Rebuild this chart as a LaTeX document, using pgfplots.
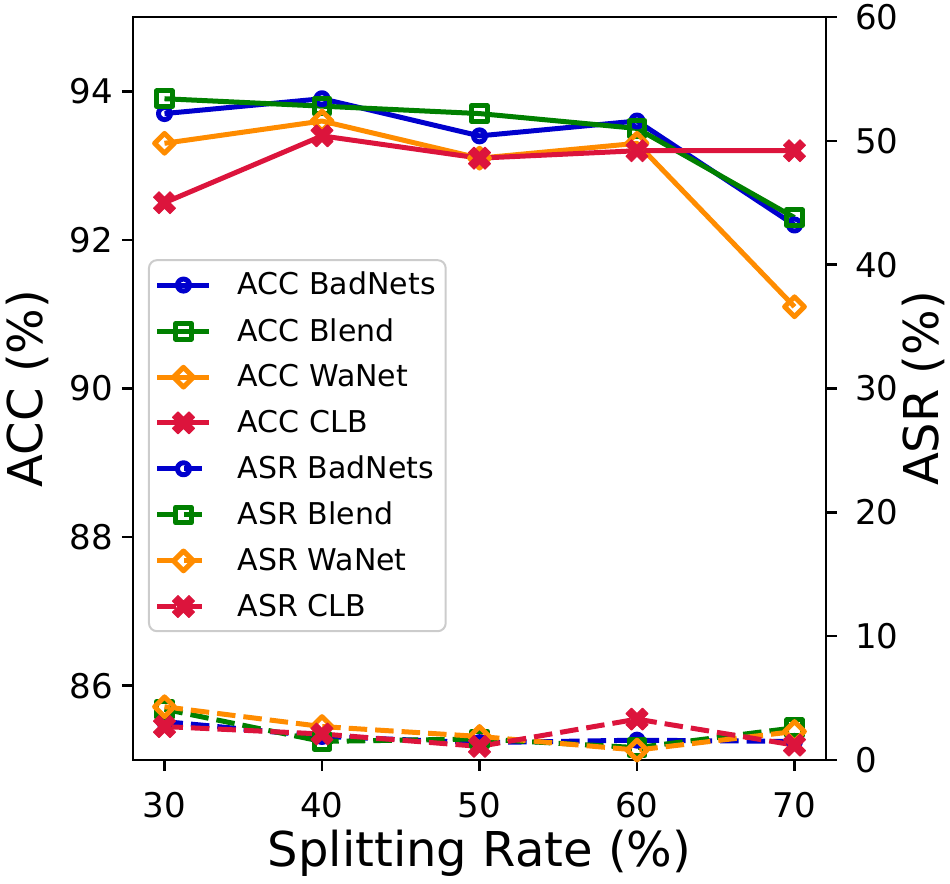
\documentclass[border=0pt]{standalone}
\usepackage{pgfplots}
\pgfplotsset{compat=1.18}
\usepackage{fontspec}
\setmainfont{DejaVu Sans}
\definecolor{cblue}{HTML}{0000CD}
\definecolor{cgreen}{HTML}{008000}
\definecolor{corange}{HTML}{FF8C00}
\definecolor{ccrimson}{HTML}{DC143C}
\pgfdeclareplotmark{Xf}{%
  \pgfpathmoveto{\pgfqpoint{-0.5\pgfplotmarksize}{-\pgfplotmarksize}}%
  \pgfpathlineto{\pgfqpoint{0pt}{-0.5\pgfplotmarksize}}%
  \pgfpathlineto{\pgfqpoint{0.5\pgfplotmarksize}{-\pgfplotmarksize}}%
  \pgfpathlineto{\pgfqpoint{\pgfplotmarksize}{-0.5\pgfplotmarksize}}%
  \pgfpathlineto{\pgfqpoint{0.5\pgfplotmarksize}{0pt}}%
  \pgfpathlineto{\pgfqpoint{\pgfplotmarksize}{0.5\pgfplotmarksize}}%
  \pgfpathlineto{\pgfqpoint{0.5\pgfplotmarksize}{\pgfplotmarksize}}%
  \pgfpathlineto{\pgfqpoint{0pt}{0.5\pgfplotmarksize}}%
  \pgfpathlineto{\pgfqpoint{-0.5\pgfplotmarksize}{\pgfplotmarksize}}%
  \pgfpathlineto{\pgfqpoint{-\pgfplotmarksize}{0.5\pgfplotmarksize}}%
  \pgfpathlineto{\pgfqpoint{-0.5\pgfplotmarksize}{0pt}}%
  \pgfpathlineto{\pgfqpoint{-\pgfplotmarksize}{-0.5\pgfplotmarksize}}%
  \pgfpathclose\pgfusepathqfillstroke}
\pgfplotsset{
  cBad/.style={cblue, line width=2.5pt, line join=round, mark=o, mark size=3pt,
    mark options={solid, line width=2.5pt, fill=none}},
  cBle/.style={cgreen, line width=2.5pt, line join=round, mark=square, mark size=3.9pt,
    mark options={solid, line width=2.5pt, fill=none}},
  cWa/.style={corange, line width=2.5pt, line join=round, mark=square, mark size=3.5pt,
    mark options={solid, rotate=45, line width=2.5pt, fill=none}},
  cClb/.style={ccrimson, line width=2.5pt, line join=round, mark=Xf, mark size=5.5pt,
    mark options={solid, line width=0.5pt, fill=ccrimson, fill opacity=1}},
  dsh/.style={dash pattern=on 9.25pt off 4pt},
  common/.style={
    scale only axis, width=346.5pt, height=371.5pt,
    xmin=28, xmax=72,
    tick align=outside, major tick length=5.5pt,
    every tick/.style={black, line width=1.3pt},
    axis line style={line width=1.3pt},
    /pgf/number format/assume math mode=true,
    ticklabel style={font=\fontsize{17}{20}\selectfont},
  },
}
\begin{document}
\begin{tikzpicture}
\begin{axis}[common,
  ymin=85, ymax=95,
  xtick={30,40,50,60,70}, ytick={86,88,90,92,94},
  xtick pos=bottom, ytick pos=left,
  xticklabel style={yshift=-7pt},
  yticklabel style={xshift=-1pt},
  xlabel={Splitting Rate (\%)}, ylabel={ACC (\%)},
  every axis x label/.style={at={(axis description cs:0.5,-0.144)},anchor=base,font=\fontsize{24}{28}\selectfont},
  every axis y label/.style={at={(axis description cs:-0.1299,0.5)},rotate=90,anchor=base,font=\fontsize{24}{28}\selectfont},
  legend image code/.code={\draw[mark repeat=2,mark phase=2,fill opacity=1,#1] plot coordinates {(0pt,0pt) (13pt,0pt) (26pt,0pt)};},
  legend style={at={(0.0216,0.172)}, anchor=south west, draw=black!20, line width=1pt,
    rounded corners=4pt, fill=white, fill opacity=0.8, text opacity=1,
    font=\fontsize{15}{18}\selectfont, row sep=6.2pt, inner xsep=3pt, inner ysep=4pt,
    cells={anchor=west}, /tikz/every odd column/.append style={column sep=11pt}},
]
\addplot[cBad] coordinates {(30,93.7) (40,93.9) (50,93.4) (60,93.6) (70,92.2)};
\addlegendentry{ACC BadNets\hspace{3pt}}
\addplot[cBle] coordinates {(30,93.9) (40,93.8) (50,93.7) (60,93.5) (70,92.3)};
\addlegendentry{ACC Blend}
\addplot[cWa] coordinates {(30,93.3) (40,93.6) (50,93.1) (60,93.3) (70,91.1)};
\addlegendentry{ACC WaNet}
\addplot[cClb] coordinates {(30,92.5) (40,93.4) (50,93.1) (60,93.2) (70,93.2)};
\addlegendentry{ACC CLB}
\addlegendimage{cBad, dsh}
\addlegendentry{ASR BadNets}
\addlegendimage{cBle, dsh}
\addlegendentry{ASR Blend}
\addlegendimage{cWa, dsh}
\addlegendentry{ASR WaNet}
\addlegendimage{cClb, dsh}
\addlegendentry{ASR CLB}
\end{axis}
\begin{axis}[common,
  ymin=0, ymax=60, ytick={0,10,20,30,40,50,60},
  axis x line=none, axis y line*=right,
  yticklabel style={xshift=5.5pt},
  ylabel={ASR (\%)},
  every axis y label/.style={at={(axis description cs:1.163,0.5)},rotate=90,anchor=base,font=\fontsize{24}{28}\selectfont},
]
\addplot[cBad, dsh] coordinates {(30,3.1) (40,1.9) (50,1.4) (60,1.6) (70,1.5)};
\addplot[cBle, dsh] coordinates {(30,4.1) (40,1.5) (50,1.7) (60,1.0) (70,2.6)};
\addplot[cWa, dsh] coordinates {(30,4.3) (40,2.7) (50,1.9) (60,0.8) (70,2.3)};
\addplot[cClb, dsh] coordinates {(30,2.7) (40,2.1) (50,1.1) (60,3.3) (70,1.2)};
\end{axis}
\pgfresetboundingbox
\path[use as bounding box] (-66.5pt,-62pt) rectangle (408.5pt,380pt);
\end{tikzpicture}
\end{document}
